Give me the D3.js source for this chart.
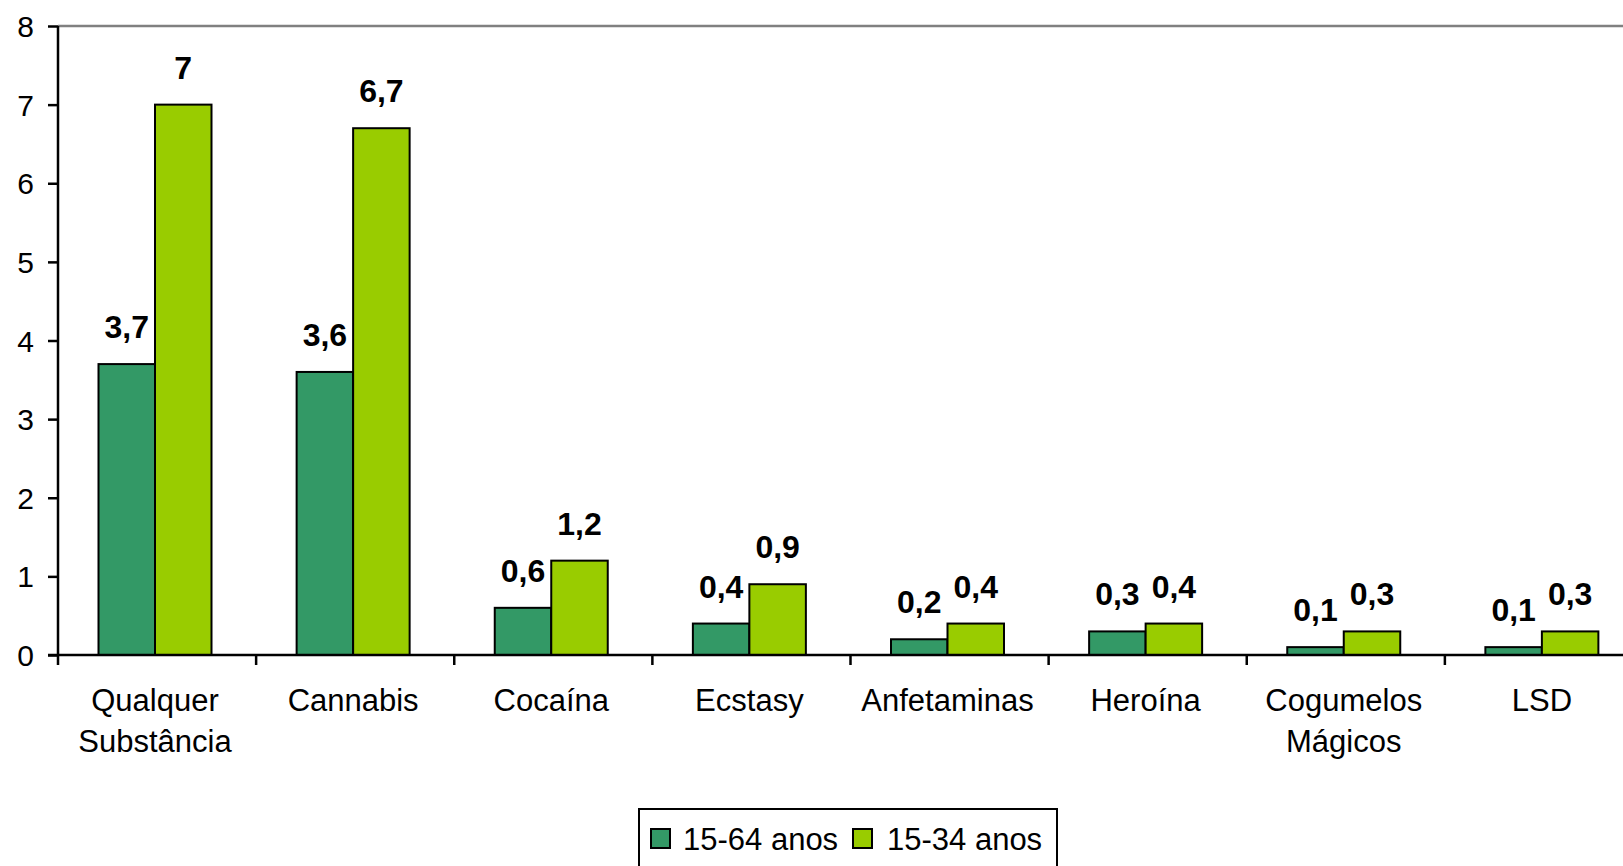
<!DOCTYPE html>
<html><head><meta charset="utf-8">
<script src="https://cdn.jsdelivr.net/npm/d3@7"></script>
<style>html,body{margin:0;padding:0;background:#fff;overflow:hidden}svg{display:block}</style>
</head><body>
<svg id="chart" width="1623" height="866"></svg>
<script>
const categories = [["Qualquer","Substância"],["Cannabis"],["Cocaína"],["Ecstasy"],["Anfetaminas"],["Heroína"],["Cogumelos","Mágicos"],["LSD"]];
const seriesNames = ["15-64 anos","15-34 anos"];
const values1564 = [3.7,3.6,0.6,0.4,0.2,0.3,0.1,0.1];
const values1534 = [7,6.7,1.2,0.9,0.4,0.4,0.3,0.3];
const yTicks = [0,1,2,3,4,5,6,7,8];
const colors = ["#339966","#99CC00"];

(function(){
const svg = d3.select("#chart");
const font = "'Liberation Sans', Arial, sans-serif";
const mLeft = 58, mRight = 1643, mTop = 26, mBottom = 655;
const catKeys = categories.map(c => c.join(" "));
const x = d3.scaleBand().domain(catKeys).range([mLeft, mRight]);
const xi = d3.scaleBand().domain([0,1]).range([40.5, 153.5]);
const y = d3.scaleLinear().domain([0,8]).range([mBottom, mTop]);
const fmt = v => String(v).replace(".", ",");

// top plot border
svg.append("line").attr("x1", mLeft).attr("x2", mRight).attr("y1", y(8)).attr("y2", y(8))
  .attr("stroke", "#808080").attr("stroke-width", 2.5);

const data = catKeys.map((k,i) => ({k, vals:[values1564[i], values1534[i]]}));
const g = svg.append("g").selectAll("g").data(data).join("g")
  .attr("transform", d => `translate(${x(d.k)},0)`);
g.selectAll("rect").data(d => d.vals.map((v,j)=>({v,j}))).join("rect")
  .attr("x", d => xi(d.j)).attr("width", xi.bandwidth())
  .attr("y", d => y(d.v)).attr("height", d => y(0) - y(d.v))
  .attr("fill", d => colors[d.j]).attr("stroke", "#000").attr("stroke-width", 2);
g.selectAll("text.val").data(d => d.vals.map((v,j)=>({v,j}))).join("text")
  .attr("class","val")
  .attr("x", d => xi(d.j) + xi.bandwidth()/2).attr("y", d => y(d.v) - 26)
  .attr("text-anchor","middle").attr("font-family", font).attr("font-weight","bold")
  .attr("font-size", 32).attr("fill","#000").text(d => fmt(d.v));

// y axis
const yAxis = svg.append("g").attr("transform", `translate(${mLeft},0)`)
  .call(d3.axisLeft(y).tickValues(yTicks).tickSize(10).tickPadding(14).tickFormat(d => d));
yAxis.select(".domain").remove();
yAxis.selectAll(".tick line").attr("stroke","#000").attr("stroke-width",2.5);
yAxis.selectAll(".tick text").attr("font-family", font).attr("font-size", 30).attr("fill","#000").attr("dy","0.35em");
svg.append("line").attr("x1", mLeft).attr("x2", mLeft).attr("y1", mTop).attr("y2", mBottom + 10)
  .attr("stroke","#000").attr("stroke-width",2.5);

// x axis
svg.append("line").attr("x1", mLeft - 10).attr("x2", mRight).attr("y1", mBottom).attr("y2", mBottom)
  .attr("stroke","#000").attr("stroke-width",2.5);
svg.append("g").selectAll("line").data(catKeys.slice(1)).join("line")
  .attr("x1", d => x(d)).attr("x2", d => x(d)).attr("y1", mBottom).attr("y2", mBottom + 10)
  .attr("stroke","#000").attr("stroke-width",2.5);
const labels = svg.append("g").selectAll("text").data(categories).join("text")
  .attr("x", (d,i) => x(catKeys[i]) + (xi(0) + xi(1) + xi.bandwidth())/2)
  .attr("y", mBottom + 56)
  .attr("text-anchor","middle").attr("font-family", font).attr("font-size", 31).attr("fill","#000");
labels.selectAll("tspan").data(d => d).join("tspan")
  .attr("x", function(){ return this.parentNode.getAttribute("x"); })
  .attr("dy", (d,i) => i === 0 ? 0 : 41).text(d => d);

// legend
const lg = svg.append("g");
lg.append("rect").attr("x", 639).attr("y", 809).attr("width", 418).attr("height", 80)
  .attr("fill","#fff").attr("stroke","#000").attr("stroke-width",2);
const items = [{x:651, tx:683},{x:853, tx:887}];
seriesNames.forEach((n,i) => {
  lg.append("rect").attr("x", items[i].x).attr("y", 829).attr("width", 19).attr("height", 19)
    .attr("fill", colors[i]).attr("stroke","#000").attr("stroke-width",2);
  lg.append("text").attr("x", items[i].tx).attr("y", 850).attr("font-family", font)
    .attr("font-size", 31).attr("fill","#000").text(n);
});
})();
</script>
</body></html>
